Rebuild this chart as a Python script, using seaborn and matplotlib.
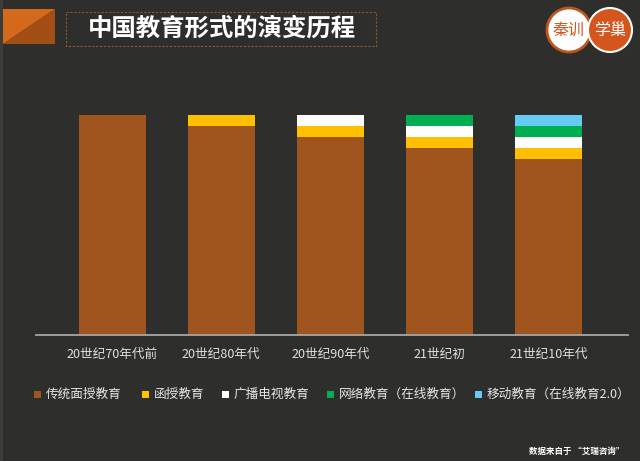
import matplotlib
matplotlib.use("Agg")
import matplotlib.pyplot as plt
import matplotlib.patches as mpatches
import seaborn as sns
import numpy as np
import pandas as pd

# ---- data ----
categories = ["20世纪70年代前", "20世纪80年代", "20世纪90年代", "21世纪初", "21世纪10年代"]
series_names = ["传统面授教育", "函授教育", "广播电视教育", "网络教育（在线教育）", "移动教育（在线教育2.0）"]
traditional = [100, 95, 90, 85, 80]
correspondence = [0, 5, 5, 5, 5]
broadcast = [0, 0, 5, 5, 5]
online = [0, 0, 0, 5, 5]
mobile = [0, 0, 0, 0, 5]
colors = ["#a0541e", "#ffc000", "#ffffff", "#00b050", "#66ccf5"]
title = "中国教育形式的演变历程"
source = "数据来自于 “艾瑞咨询”"

sns.set_theme(style="white")
plt.rcParams['font.family'] = ['Noto Sans CJK SC', 'DejaVu Sans']

BG = "#2e2e2c"
W, H = 640, 461
fig = plt.figure(figsize=(6.4, 4.61), dpi=100, facecolor=BG)

# decoration layer in pixel coordinates
deco = fig.add_axes([0, 0, 1, 1], zorder=0)
deco.set_xlim(0, W)
deco.set_ylim(H, 0)
deco.axis("off")
deco.set_facecolor(BG)
deco.add_patch(mpatches.Rectangle((0, 0), 3, H, color="#3c3c3a", lw=0))
# orange corner block
deco.add_patch(mpatches.Polygon([(3, 9), (55, 9), (3, 44)], closed=True, color="#d4691c", lw=0))
deco.add_patch(mpatches.Polygon([(55, 9), (55, 44), (3, 44)], closed=True, color="#a24e14", lw=0))
# title box
deco.add_patch(mpatches.Rectangle((66, 12), 310, 34, fill=False, ec="#8a5a3a", lw=0.8, ls=(0, (2, 1.5))))
deco.text(222, 29, title, color="white", fontsize=17.6, fontweight="bold",
          ha="center", va="center")
# logo
deco.add_patch(mpatches.Circle((569, 30), 22, fc="white", ec="#c0561e", lw=2.0, zorder=2))
deco.text(569, 30, "秦训", color="#d2571e", fontsize=11.5, fontweight="medium", ha="center", va="center", zorder=3)
deco.add_patch(mpatches.Circle((610, 30), 22, fc="#d4561c", ec="white", lw=1.5, zorder=4))
deco.text(610, 30, "学巢", color="white", fontsize=11.5, fontweight="medium", ha="center", va="center", zorder=5)

# ---- main chart ----
ax = fig.add_axes([36 / W, 126 / H, 592 / W, 220 / H], zorder=1)
ax.set_facecolor("none")

layers = [traditional, correspondence, broadcast, online, mobile]
cums = np.cumsum(np.array(layers), axis=0)
for i in range(len(layers) - 1, -1, -1):
    df = pd.DataFrame({"cat": categories, "val": cums[i]})
    sns.barplot(data=df, x="cat", y="val", color=colors[i], saturation=1,
                width=0.615, ax=ax, linewidth=0)

ax.set_xlim(-0.70, 4.73)
ax.set_ylim(0, 100)
ax.set_xlabel("")
ax.set_ylabel("")
ax.set_yticks([])
for s in ["top", "right", "left"]:
    ax.spines[s].set_visible(False)
ax.spines["bottom"].set_color("#a6a6a6")
ax.spines["bottom"].set_linewidth(1.3)
ax.tick_params(axis="x", length=0, pad=9, labelsize=9.1, labelcolor="#e0e0e0")

# legend
leg_x = [34, 142, 222, 327, 475]
for x, name, c in zip(leg_x, series_names, colors):
    deco.add_patch(mpatches.Rectangle((x, 390.5), 7, 7, fc=c, lw=0))
    deco.text(x + 12, 394, name, color="#e6e6e6", fontsize=9.1, ha="left", va="center")

deco.text(624, 451, source, color="white", fontsize=6.1, fontweight="bold", ha="right", va="center")

fig.savefig("out.png", dpi=100, facecolor=BG)
